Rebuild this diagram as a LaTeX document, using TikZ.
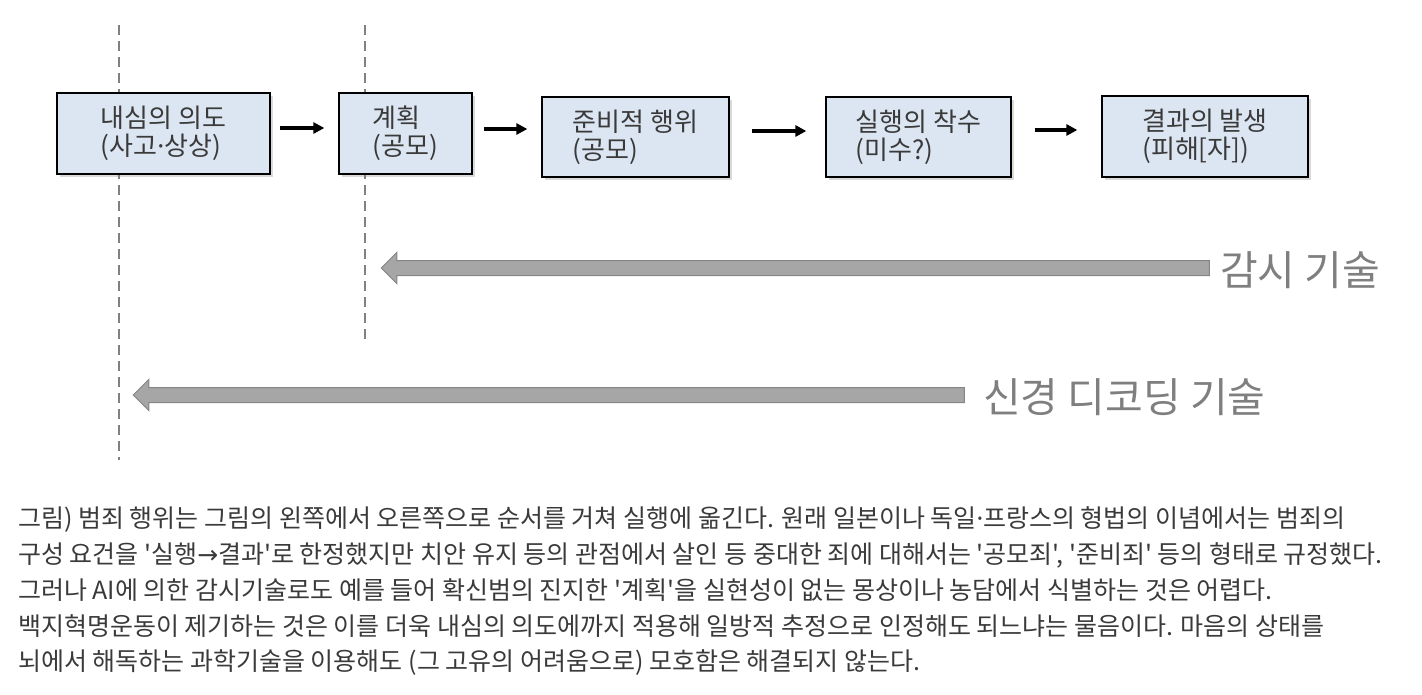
\documentclass[tikz,border=0pt]{standalone}
\usepackage{fontspec}
\setmainfont{Noto Sans CJK KR}[Ligatures=TeXOff]
\newfontfamily\latinfont{Noto Sans}
\newfontfamily\symfont{DejaVu Sans}
\newcommand{\mdot}{{\latinfont ·}}
\newcommand{\rarr}{{\symfont →}}
\usetikzlibrary{shapes.arrows,shadows,arrows.meta}
\definecolor{boxfill}{HTML}{DCE6F2}
\definecolor{txtdark}{HTML}{3A3A3A}
\definecolor{txtgray}{HTML}{7F7F7F}
\definecolor{arrfill}{HTML}{A6A6A6}
\definecolor{arrline}{HTML}{858585}
\definecolor{dashgray}{HTML}{808080}
\tikzset{
  stagebox/.style={draw=black, line width=1.3pt, fill=boxfill, inner sep=0pt,
    minimum height=81pt, align=left, text=txtdark,
    font=\fontsize{26}{28}\selectfont,
    drop shadow={shadow xshift=3pt, shadow yshift=-3pt, opacity=0.3}},
  flow/.style={line width=3.2pt, -{Triangle[length=11pt,width=11pt]}},
  stageline/.style={draw=dashgray, line width=1.6pt, dash pattern=on 10pt off 6pt},
  bigarrow/.style={single arrow, shape border rotate=180, draw=arrline, fill=arrfill,
    line width=1pt, inner sep=0pt, single arrow head extend=8pt},
  biglabel/.style={text=txtgray, font=\fontsize{41}{44}\selectfont, inner sep=0pt, anchor=west},
  capline/.style={text=txtdark, font=\fontsize{25}{28}\selectfont, inner sep=0pt, anchor=base west}
}
\begin{document}
\begin{tikzpicture}[x=1pt,y=-1pt]
\useasboundingbox (0,0) rectangle (1422,694);
% stage lines
\coordinate (l1top) at (119,25);
\coordinate (l1bot) at (119,460);
\coordinate (l2top) at (365,25);
\coordinate (l2bot) at (365,340);
\draw[stageline] (l1top) -- (l1bot);
\draw[stageline] (l2top) -- (l2bot);
% boxes
\node[stagebox, minimum width=213pt] (b1) at (163.5,133.5) {내심의 의도\\(사고\mdot 상상)};
\node[stagebox, minimum width=133pt] (b2) at (405.5,133.5) {계획\\(공모)};
\node[stagebox, minimum width=187pt, minimum height=80pt] (b3) at (635.5,137) {준비적 행위\\(공모)};
\node[stagebox, minimum width=185pt, minimum height=80pt] (b4) at (918.5,137) {실행의 착수\\(미수?)};
\node[stagebox, minimum width=206pt] (b5) at (1205,136.5) {결과의 발생\\(피해[자])};
% flow arrows
\draw[flow] ([xshift=9pt,yshift=5.5pt]b1.east) -- ([xshift=-14pt,yshift=5.5pt]b2.west);
\draw[flow] ([xshift=11pt,yshift=4.5pt]b2.east) -- ([xshift=-14pt,yshift=8pt]b3.west);
\draw[flow] ([xshift=22pt,yshift=6pt]b3.east) -- ([xshift=-19pt,yshift=6pt]b4.west);
\draw[flow] ([xshift=23pt,yshift=7pt]b4.east) -- ([xshift=-24pt,yshift=6.5pt]b5.west);
% big arrows
\node[biglabel] (t1) at (1220,270) {감시 기술};
\node[bigarrow, minimum height=828pt] (a1) at (799,268) {\rule{0pt}{14pt}};
\node[biglabel] (t2) at (983,397) {신경 디코딩 기술};
\node[bigarrow, minimum height=831pt] (a2) at (552.5,395) {\rule{0pt}{14pt}};
% caption
\node[capline] (c1) at (18,527) {그림) 범죄 행위는 그림의 왼쪽에서 오른쪽으로 순서를 거쳐 실행에 옮긴다. 원래 일본이나 독일\mdot 프랑스의 형법의 이념에서는 범죄의};
\node[capline] (c2) at (18,563) {구성 요건을 '실행\rarr 결과'로 한정했지만 치안 유지 등의 관점에서 살인 등 중대한 죄에 대해서는 '공모죄', '준비죄' 등의 형태로 규정했다.};
\node[capline] (c3) at (18,599) {그러나 AI에 의한 감시기술로도 예를 들어 확신범의 진지한 '계획'을 실현성이 없는 몽상이나 농담에서 식별하는 것은 어렵다.};
\node[capline] (c4) at (18,635) {백지혁명운동이 제기하는 것은 이를 더욱 내심의 의도에까지 적용해 일방적 추정으로 인정해도 되느냐는 물음이다. 마음의 상태를};
\node[capline] (c5) at (18,670) {뇌에서 해독하는 과학기술을 이용해도 (그 고유의 어려움으로) 모호함은 해결되지 않는다.};
\end{tikzpicture}
\end{document}
